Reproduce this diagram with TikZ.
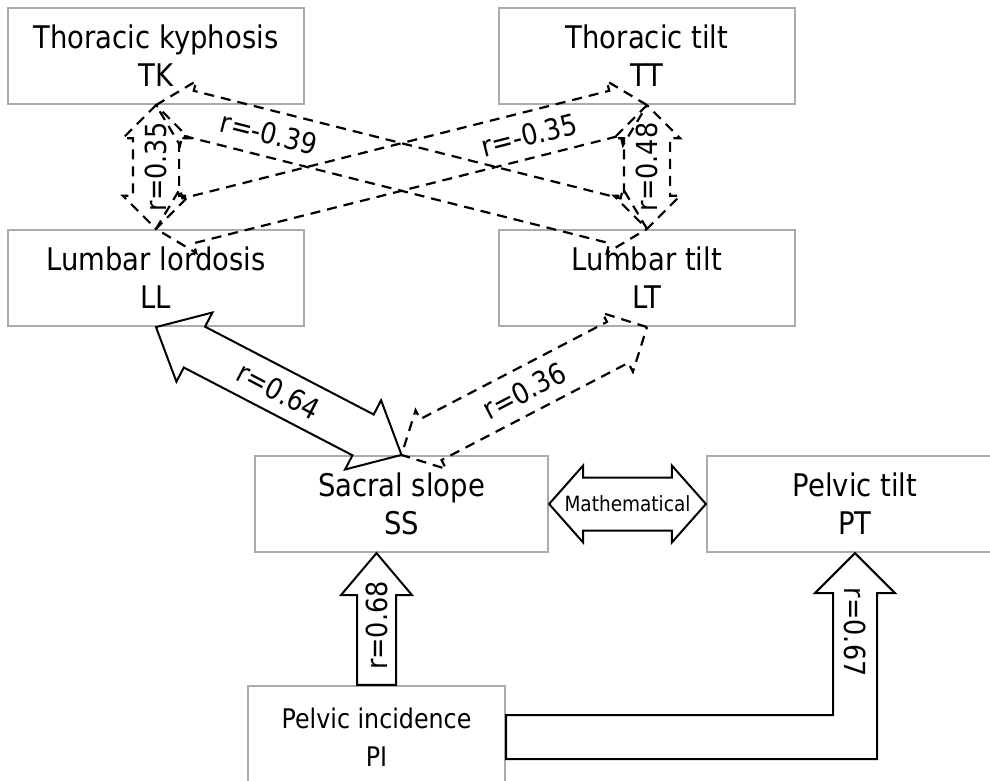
\documentclass[tikz,border=0pt]{standalone}
\usepackage{fontspec}
\setmainfont{DejaVu Sans}[FakeStretch=0.88]
\usetikzlibrary{shapes.arrows,calc}
\newcommand*\boxfont{\fontsize{15.6pt}{19pt}\selectfont}
\newcommand*\smallboxfont{\fontsize{13.5pt}{19pt}\selectfont}
\newcommand*\corrfont{\fontsize{14.5pt}{17pt}\selectfont}
\newcommand*\notefont{\fontsize{10.5pt}{12pt}\selectfont}
\tikzset{
    box/.style        = {draw=black!33, line width=1.1pt, align=center,
                         minimum width=148pt, minimum height=48pt,
                         inner sep=0pt, font=\boxfont},
    corr/.style       = {double arrow, draw, line width=1.1pt,
                         dash pattern=on 5pt off 3.5pt,
                         double arrow head extend=5pt, double arrow tip angle=90,
                         inner sep=0pt, minimum width=0pt,
                         text height=22pt, text depth=0pt},
    strongcorr/.style = {solid, line width=1pt,
                         double arrow head extend=8pt, double arrow tip angle=84},
    mathlink/.style   = {solid, line width=1pt, text height=25.5pt,
                         double arrow head extend=6pt, double arrow tip angle=97},
    blockarrow/.style = {draw, line width=1pt, line join=miter},
    rlabel/.style     = {font=\corrfont, sloped, inner sep=0pt},
}
% double arrow node stretched between two anchors
\newcommand*\corrarrow[4][]{%
    \path let \p1 = ($(#4)-(#3)$),
              \n1 = {atan2(\y1,\x1)},
              \n2 = {veclen(\x1,\y1)} in
        node[corr, #1, rotate=\n1, minimum height=\n2] (#2) at ($(#3)!0.5!(#4)$) {};}

\begin{document}
\begin{tikzpicture}[x=0.5pt, y=-0.5pt]
    \useasboundingbox (0,0) rectangle (990,781);

    % the seven parameters
    \node[box] (TK) at (156,56)  {Thoracic kyphosis\\TK};
    \node[box] (TT) at (647,56)  {Thoracic tilt\\TT};
    \node[box] (LL) at (156,278) {Lumbar lordosis\\LL};
    \node[box] (LT) at (647,278) {Lumbar tilt\\LT};
    \node[box, minimum width=146.5pt] (SS) at (401.5,504) {Sacral slope\\SS};
    \node[box] (PT) at (855,504) {Pelvic tilt\\PT};
    \node[box, minimum width=128.5pt, minimum height=51pt,
          font=\smallboxfont] (PI) at (376.5,737) {Pelvic incidence\\PI};

    % weak correlations (dashed)
    \corrarrow{tk-ll}{LL.north}{TK.south}
    \corrarrow{tt-lt}{LT.north}{TT.south}
    \corrarrow{tk-lt}{TK.south}{LT.north}
    \corrarrow{ll-tt}{LL.north}{TT.south}
    \corrarrow{ss-lt}{SS.north}{LT.south}
    \path (LL.north) -- node[rlabel] (r-tk-ll) {r=0.35} (TK.south);
    \path (LT.north) -- node[rlabel] (r-tt-lt) {r=0.48} (TT.south);
    \path (TK.south) -- node[rlabel, pos=0.23] (r-tk-lt) {r=-0.39} (LT.north);
    \path (LL.north) -- node[rlabel, pos=0.76] (r-ll-tt) {r=-0.35} (TT.south);
    \path (SS.north) -- node[rlabel] (r-ss-lt) {r=0.36} (LT.south);

    % strong correlations (solid)
    \corrarrow[strongcorr]{ll-ss}{LL.south}{SS.north}
    \path (LL.south) -- node[rlabel] (r-ll-ss) {r=0.64} (SS.north);
    \corrarrow[mathlink]{ss-pt}{SS.east}{PT.west}
    \path (SS.east) -- node[font=\notefont, inner sep=0pt] (math) {Mathematical} (PT.west);

    % PI -> SS
    \coordinate (ss-tip) at (PI.north |- SS.south);
    \draw[blockarrow] ($(PI.north)+(-9.75pt,0)$) -- ($(ss-tip)+(-9.75pt,-21pt)$)
        -- ($(ss-tip)+(-17.75pt,-21pt)$) -- (ss-tip) -- ($(ss-tip)+(17.75pt,-21pt)$)
        -- ($(ss-tip)+(9.75pt,-21pt)$) -- ($(PI.north)+(9.75pt,0)$) -- cycle;
    \path (PI.north) -- node[rlabel, pos=0.45] (r-pi-ss) {r=0.68} (ss-tip);

    % PI -> PT
    \coordinate (bend) at (PT.south |- PI.east);
    \draw[blockarrow] ($(PI.east)+(0,11pt)$) -- ($(bend)+(-11pt,11pt)$)
        -- ($(PT.south)+(-11pt,-20pt)$) -- ($(PT.south)+(-20pt,-20pt)$) -- (PT.south)
        -- ($(PT.south)+(20pt,-20pt)$) -- ($(PT.south)+(11pt,-20pt)$)
        -- ($(bend)+(11pt,-11pt)$) -- ($(PI.east)+(0,-11pt)$) -- cycle;
    \path (PT.south) -- node[font=\corrfont, rotate=-90, inner sep=0pt, pos=0.43] (r-pi-pt) {r=0.67} (bend);
\end{tikzpicture}
\end{document}
